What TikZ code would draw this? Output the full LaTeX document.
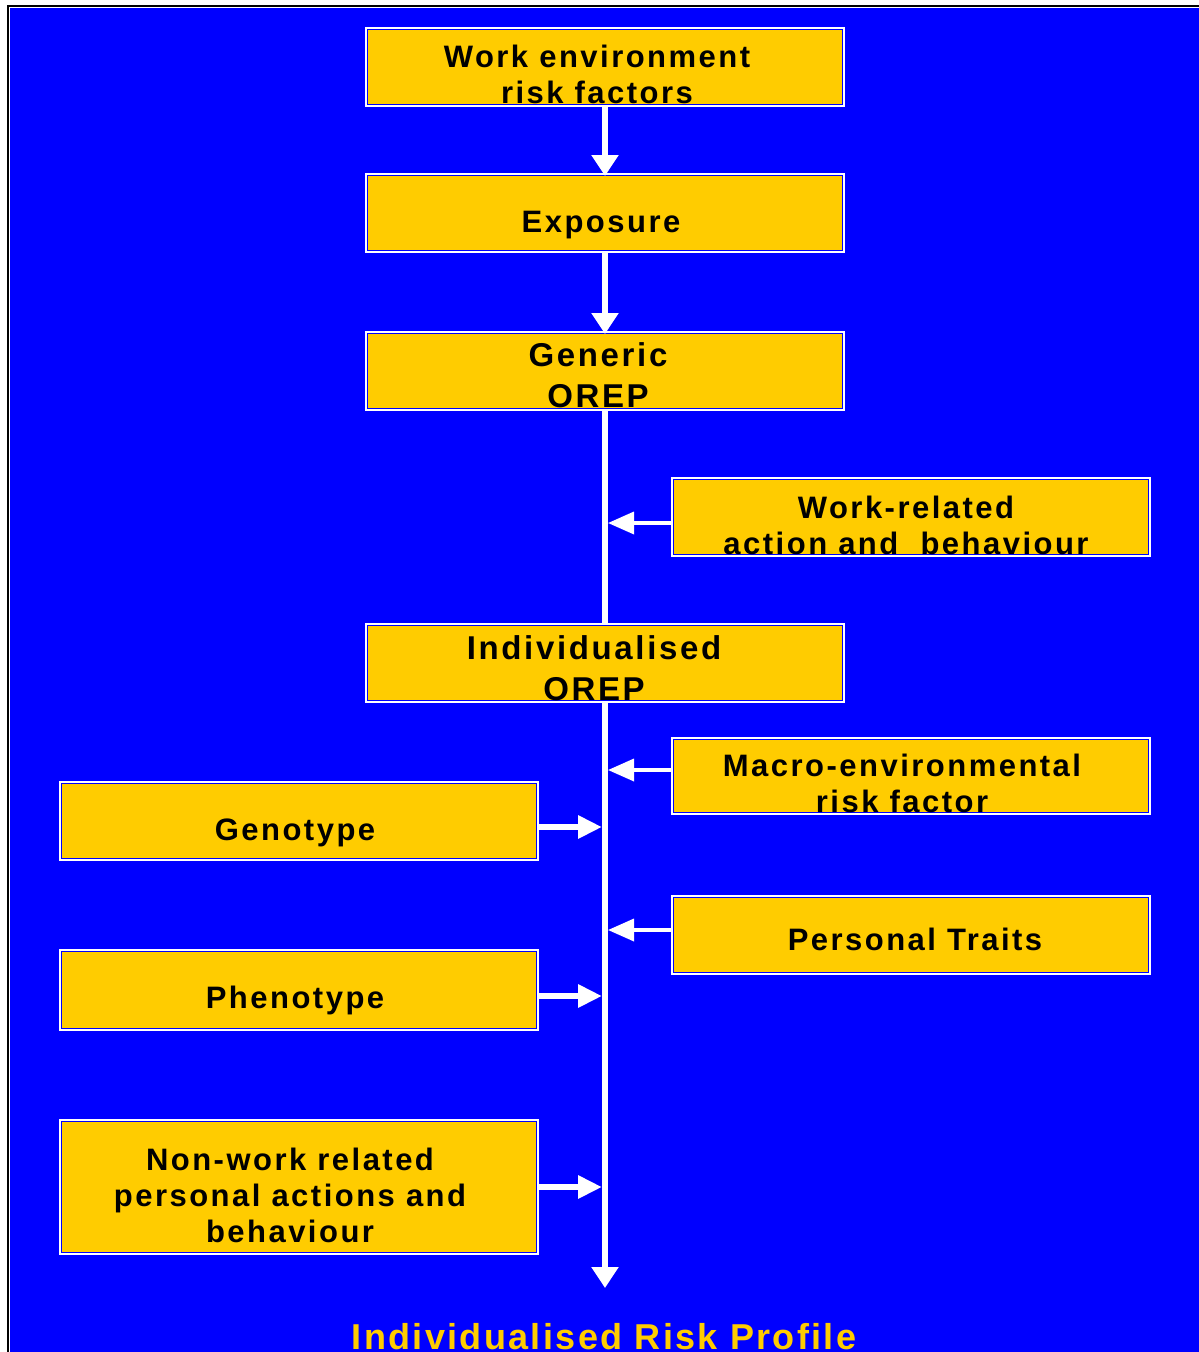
\documentclass[tikz,border=0pt]{standalone}
\usepackage{fontspec}
\usetikzlibrary{arrows.meta}
\newfontfamily\diagfont[LetterSpace=8]{Liberation Sans}
\newfontfamily\titlefont[LetterSpace=6.5]{Liberation Sans}
\definecolor{bgblue}{HTML}{0000FF}
\definecolor{boxyellow}{HTML}{FFCC00}
\tikzset{
  box/.style={rectangle, fill=boxyellow, draw=white, line width=2pt,
    inner sep=0pt, outer sep=0pt, minimum width=478pt, minimum height=78pt,
    path picture={\draw[bgblue, line width=4pt]
      (path picture bounding box.north west) rectangle
      (path picture bounding box.south east);}},
  % anchor=base sits on the baseline of the last line
  boxtext/.style={anchor=base, align=center, text=black, inner sep=0pt,
    font=\diagfont\bfseries\fontsize{31}{36}\selectfont},
  bigtext/.style={boxtext, font=\diagfont\bfseries\fontsize{33}{40.5}\selectfont},
  vline/.style={white, line width=6pt},
  varrow/.style={vline, -{Triangle[length=21pt,width=26pt]}},
  rarrow/.style={white, line width=3.5pt, -{Triangle[length=26pt,width=22pt]}},
  larrow/.style={white, line width=6pt, -{Triangle[length=24pt,width=22pt]}},
}
\begin{document}
\begin{tikzpicture}[x=1pt, y=-1pt]
% page frame and blue background
\fill[white] (0,0) rectangle (1199,1352);
\fill[black] (7,5) rectangle (1199,1352);
\fill[white] (9,7) rectangle (1199,1352);
\fill[bgblue] (10,8) rectangle (1199,1352);
\useasboundingbox (0,0) rectangle (1199,1352);

% boxes
\node[box] (b1) at (605,67) {};
\node[box] (b2) at (605,213) {};
\node[box] (b3) at (605,371) {};
\node[box] (b4) at (911,517) {};
\node[box] (b5) at (605,663) {};
\node[box, minimum height=76pt] (b6) at (911,776) {};
\node[box] (b7) at (299,821) {};
\node[box] (b8) at (911,935) {};
\node[box, minimum height=80pt] (b9) at (299,990) {};
\node[box, minimum height=134pt] (b10) at (299,1187) {};

% junction points on the main line
\coordinate (tail) at (605,1288);
\coordinate (j4) at (608,523);
\coordinate (j6) at (608,770);
\coordinate (j8) at (608,930);
\coordinate (j7) at (602,827);
\coordinate (j9) at (602,996);
\coordinate (j10) at (602,1187);
\coordinate (e2) at (605,176);
\coordinate (e3) at (605,334);

% connectors
\draw[varrow] (b1.south) -- (e2);
\draw[varrow] (b2.south) -- (e3);
\draw[vline] (b3.south) -- (b5.north);
\draw[varrow] (b5.south) -- (tail);
\draw[rarrow] (b4.west |- j4) -- (j4);
\draw[rarrow] (b6.west |- j6) -- (j6);
\draw[rarrow] (b8.west |- j8) -- (j8);
\draw[larrow] (b7.east |- j7) -- (j7);
\draw[larrow] (b9.east |- j9) -- (j9);
\draw[larrow] (b10.east |- j10) -- (j10);

% labels
\node[boxtext] (t1) at (597,103) {Work environment\\risk factors};
\node[boxtext] (t2) at (601,232) {Exposure};
\node[bigtext] (t3) at (598,407) {Generic\\OREP};
\node[boxtext] (t4) at (906,554) {Work-related\\action and\ \ behaviour};
\node[bigtext] (t5) at (594,700) {Individualised\\OREP};
\node[boxtext] (t6) at (902,812) {Macro-environmental\\risk factor};
\node[boxtext] (t7) at (295,840) {Genotype};
\node[boxtext] (t8) at (915,950) {Personal Traits};
\node[boxtext] (t9) at (295,1008) {Phenotype};
\node[boxtext] (t10) at (290,1242) {Non-work related\\personal actions and\\behaviour};

\node[anchor=base, inner sep=0pt, text=boxyellow,
  font=\titlefont\bfseries\fontsize{36}{42}\selectfont] (result) at (604,1349)
  {Individualised Risk Profile};
\end{tikzpicture}
\end{document}
